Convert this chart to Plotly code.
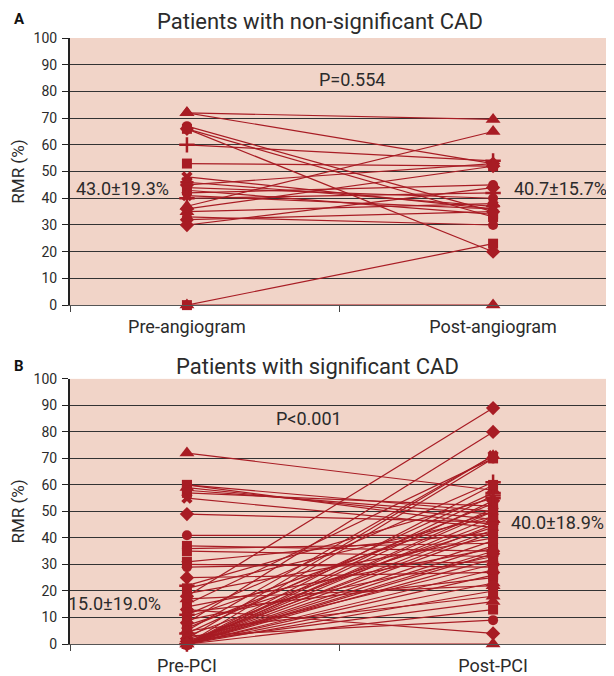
import plotly.graph_objects as go
from plotly.subplots import make_subplots

# ---------------- data ----------------
categories_A = ["Pre-angiogram", "Post-angiogram"]
categories_B = ["Pre-PCI", "Post-PCI"]

pre_A = [72, 72, 67, 66, 66, 60, 53, 48, 46, 45, 44, 43, 42, 41, 40, 37, 36, 35, 32, 30, 33, 0, 0]
post_A = [69.5, 53, 35, 20, 33, 54, 52, 36, 37, 53, 40, 34, 45, 36, 42, 65, 52, 38, 35, 44, 30, 23, 0]

pre_B = [72, 60, 60, 59, 58, 57, 55, 49, 41, 37, 36, 35, 31, 30, 29, 25, 22, 21, 19, 18,
         17, 15, 14, 13, 12, 11, 10, 9, 8, 7, 6, 5, 5, 4, 3, 3, 2, 2, 1, 1,
         0, 0, 0, 0, 0, 0, 0, 0, 0, 0, 0, 0, 0, 0, 0, 0, 0, 0, 0, 0]
post_B = [58, 45, 50, 47, 49, 52, 44, 46, 41, 35, 38, 33, 42, 29, 31, 27, 55, 48, 40, 89,
          22, 70, 36, 4, 25, 61, 50, 33, 80, 44, 53, 71, 18, 57, 9, 46, 30, 71, 43, 16,
          0, 13, 20, 23, 26, 28, 32, 34, 37, 39, 42, 45, 48, 50, 51, 54, 56, 60, 70, 35]

stats_A = {"p": "P=0.554", "pre": "43.0±19.3%", "post": "40.7±15.7%"}
stats_B = {"p": "P<0.001", "pre": "15.0±19.0%", "post": "40.0±18.9%"}
titles = ["Patients with non-significant CAD", "Patients with significant CAD"]
panel_letters = ["A", "B"]
y_title = "RMR (%)"

# ---------------- style ----------------
symbols_A = ["triangle-up", "triangle-up", "circle", "diamond", "square", "cross-thin", "square",
             "x", "asterisk", "diamond", "circle", "square", "circle", "x", "cross-thin",
             "triangle-up", "diamond", "triangle-up", "diamond", "diamond", "circle", "square",
             "triangle-up"]
symbols_B = ["triangle-up", "square", "square", "triangle-up", "square", "square", "x", "diamond",
             "circle", "square", "circle", "square", "square", "x", "circle", "diamond",
             "cross-thin", "square", "circle", "diamond", "triangle-up", "square", "circle",
             "diamond", "square", "cross-thin", "circle", "square", "diamond", "x",
             "square", "x", "triangle-up", "cross-thin", "circle", "square", "diamond",
             "triangle-up", "circle", "triangle-up"]
marker_size = {"triangle-up": 13, "square": 10, "diamond": 11, "circle": 10,
               "x": 10, "cross-thin": 11, "asterisk": 11}

RED = "#a81c24"
FONT = "Roboto, Liberation Sans Narrow, DejaVu Sans, sans-serif"
TXT = "#2b2b2b"

fig = make_subplots(rows=2, cols=1, vertical_spacing=0.1225)


def add_pairs(pre, post, syms, row):
    for i, (a, b) in enumerate(zip(pre, post)):
        s = syms[i % len(syms)]
        thin = s in ("cross-thin", "asterisk")
        fig.add_trace(go.Scatter(
            x=[0, 1], y=[a, b], mode="lines+markers",
            line=dict(color=RED, width=1.2),
            marker=dict(symbol=s, size=marker_size[s],
                        color=RED, line=dict(color=RED, width=2.5 if thin else 0)),
            showlegend=False, hoverinfo="skip", cliponaxis=False),
            row=row, col=1)


add_pairs(pre_A, post_A, symbols_A, 1)
add_pairs(pre_B, post_B, symbols_B, 2)

xrange = [-0.382, 1.395]
for r, cats in ((1, categories_A), (2, categories_B)):
    fig.update_xaxes(row=r, col=1, range=xrange, tickvals=[0, 1], ticktext=cats,
                     ticks="", showgrid=False, zeroline=False,
                     showline=True, linecolor="#555", linewidth=1,
                     ticklabelstandoff=5,
                     tickfont=dict(family=FONT, size=18, color=TXT),
                     minor=dict(tickvals=[xrange[0], 0.498, xrange[1]], ticks="outside",
                                ticklen=6, tickcolor="#444", tickwidth=1, showgrid=False))
    fig.update_yaxes(row=r, col=1, range=[0, 100], dtick=10, tick0=0,
                     ticks="outside", ticklen=6, tickcolor="#222", tickwidth=1,
                     showline=True, linecolor="#222", linewidth=2,
                     showgrid=False, zeroline=False, ticklabelstandoff=2,
                     tickfont=dict(family=FONT, size=14, color=TXT),
                     title=dict(text=y_title, font=dict(family=FONT, size=17, color=TXT),
                                standoff=6),
                     minor=dict(tickvals=list(range(10, 100, 10)), showgrid=True,
                                gridcolor="#333333", gridwidth=1, ticks=""))

# page has an 8px body margin: plot area sits at page px x 65..614, y 38..306 / 380..646
fig.update_layout(
    width=614, height=676,
    margin=dict(l=57, r=8, t=30, b=38),
    paper_bgcolor="white", plot_bgcolor="#f1d4c8",
    font=dict(family=FONT, color=TXT),
)

fig.update_yaxes(domain=[(646 - 306) / 608, 1.0], row=1, col=1)
fig.update_yaxes(domain=[0.0, (646 - 380) / 608], row=2, col=1)

ann = [
    dict(xref="x", yref="y", x=0.54, y=84.5, text=stats_A["p"]),
    dict(xref="x", yref="y", x=-0.21, y=43.7, text=stats_A["pre"]),
    dict(xref="x", yref="y", x=1.22, y=43.7, text=stats_A["post"]),
    dict(xref="x2", yref="y2", x=0.40, y=85, text=stats_B["p"]),
    dict(xref="x2", yref="y2", x=-0.236, y=15.4, text=stats_B["pre"]),
    dict(xref="x2", yref="y2", x=1.21, y=45.9, text=stats_B["post"]),
]
for a in ann:
    a.update(showarrow=False, xanchor="center", yanchor="middle",
             font=dict(family=FONT, size=18, color=TXT))
    fig.add_annotation(**a)


def px_x(v):
    return (v - 65) / 549


def px_y(v):
    return (646 - v) / 608


for t, (cx, cy) in zip(titles, ((317, 21), (315, 368))):
    fig.add_annotation(xref="paper", yref="paper", x=px_x(cx), y=px_y(cy),
                       xanchor="center", yanchor="middle", text=t, showarrow=False,
                       font=dict(family=FONT, size=22, color=TXT))
for L, cy in zip(panel_letters, (19, 367)):
    fig.add_annotation(xref="paper", yref="paper", x=px_x(14), y=px_y(cy),
                       xanchor="center", yanchor="middle", text="<b>%s</b>" % L,
                       showarrow=False, font=dict(family=FONT, size=15, color="#111"))

fig.write_html("out.html")
